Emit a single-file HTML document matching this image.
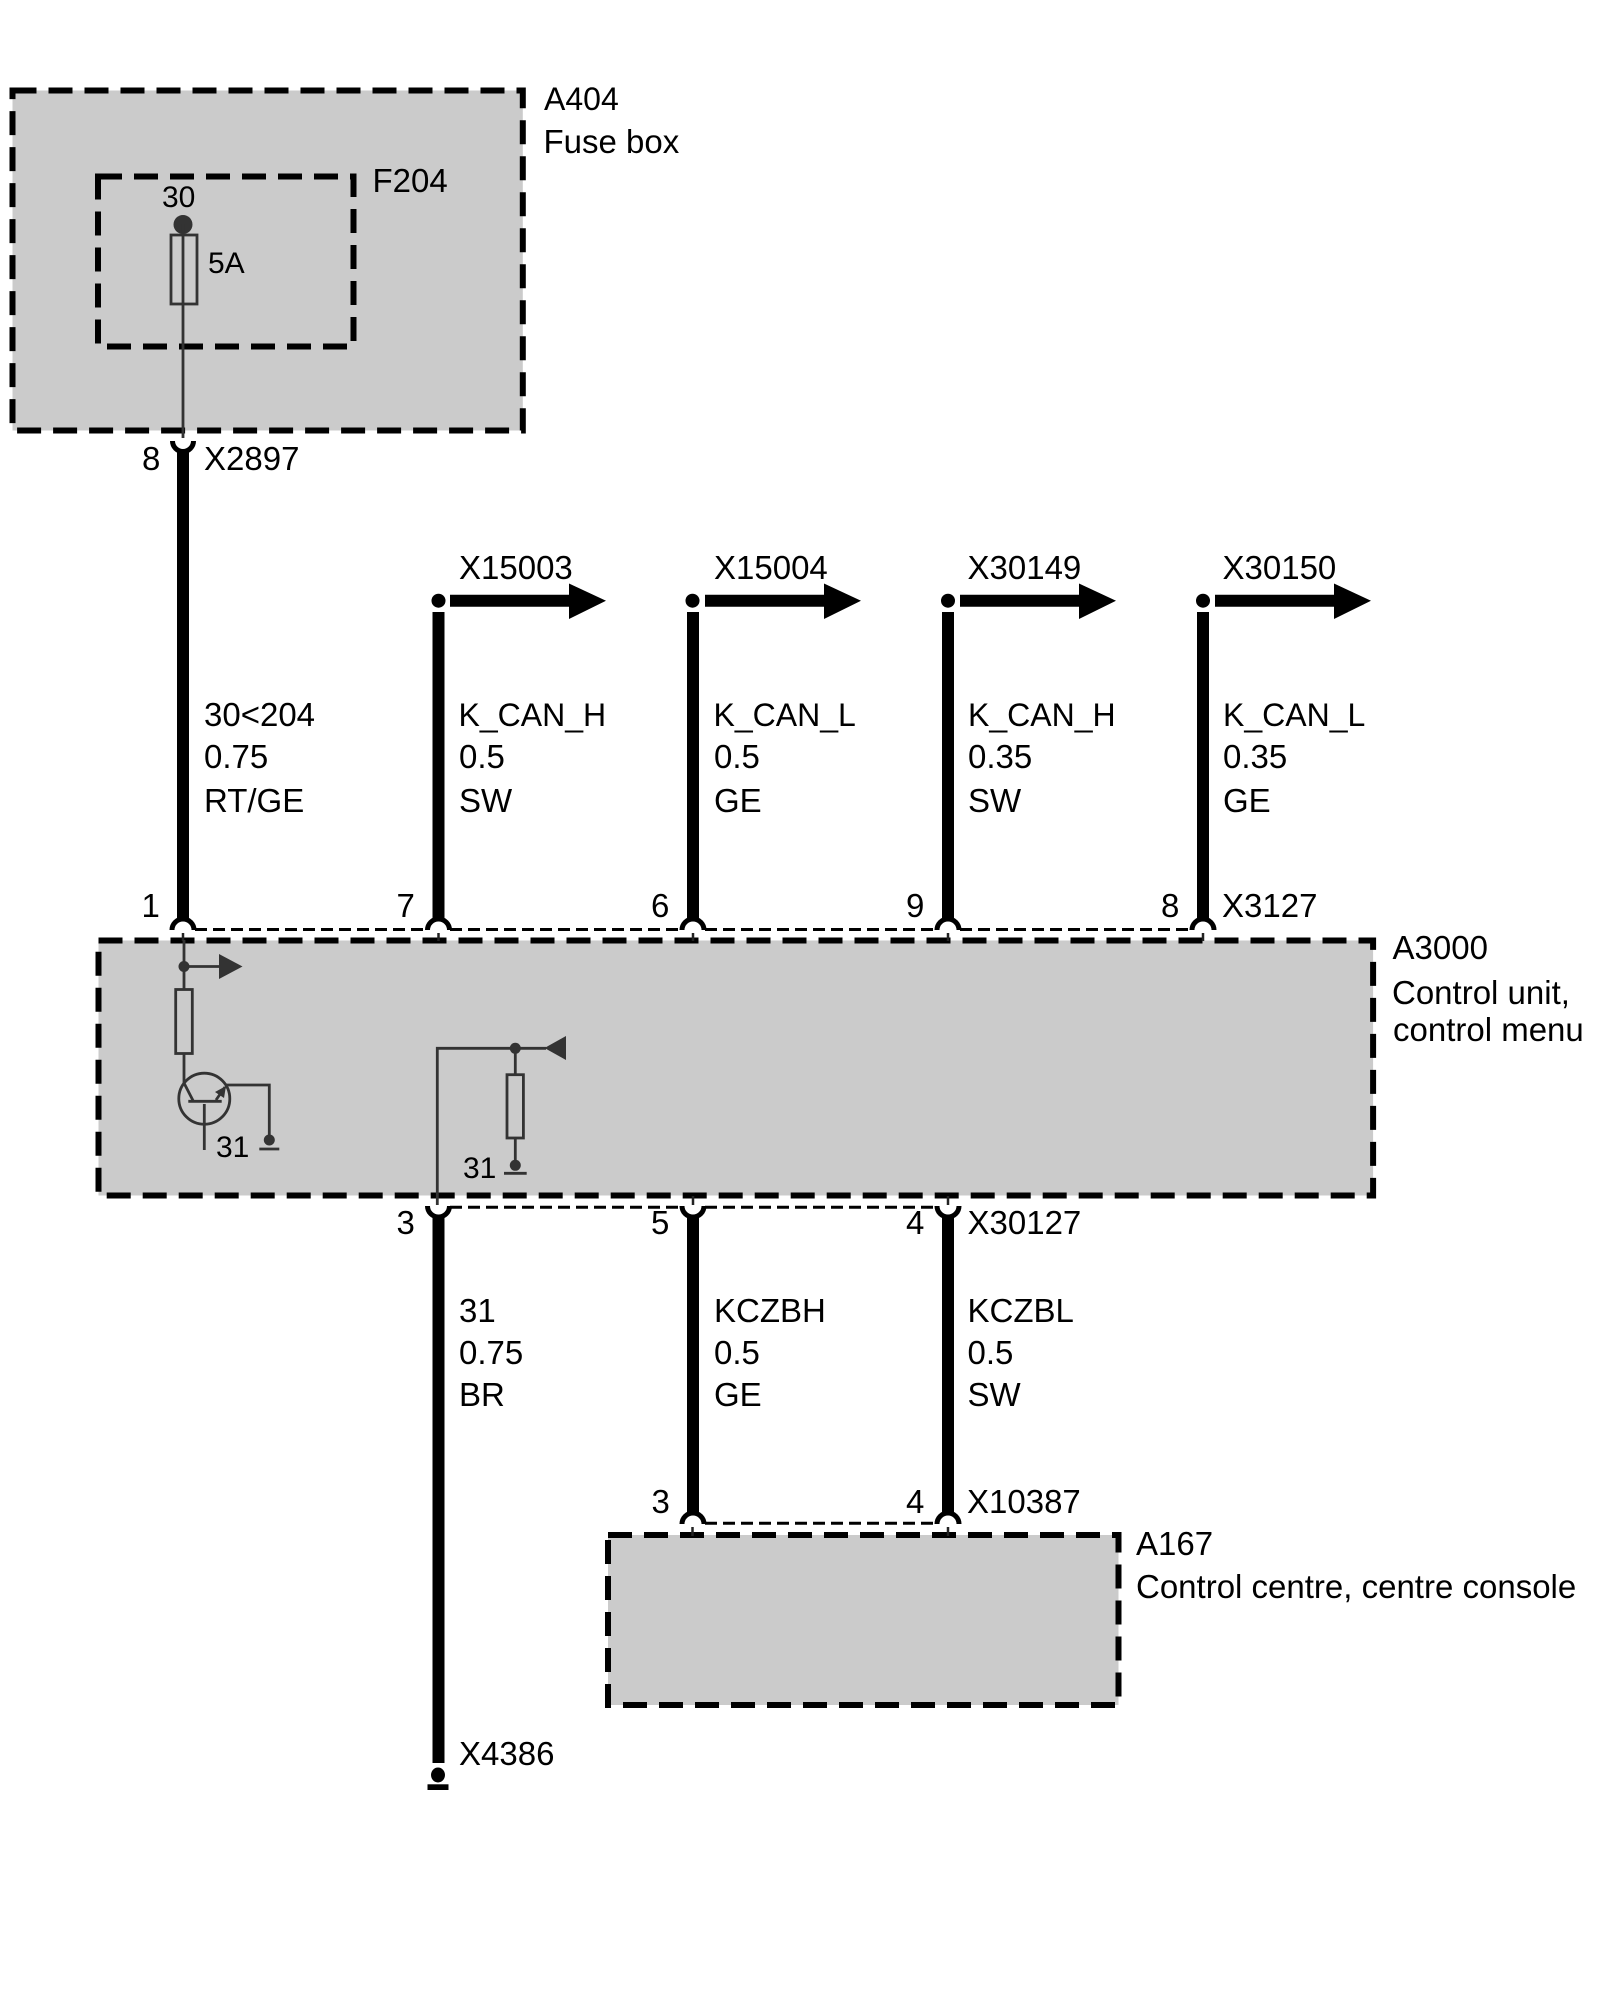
<!DOCTYPE html>
<html>
<head>
<meta charset="utf-8">
<style>
html,body{margin:0;padding:0;background:#fff;}
svg{display:block;}
text{font-family:"Liberation Sans",Arial,sans-serif;font-size:33px;fill:#000;}
.s{font-size:30px;}
.n{font-size:32px;}
.box{fill:#cbcbcb;stroke:#000;stroke-width:6;stroke-dasharray:24 12;}
.bw{stroke:#000;stroke-width:12;fill:none;}
.arc{stroke:#000;stroke-width:5;fill:none;}
.dl{stroke:#000;stroke-width:3;stroke-dasharray:12 6;fill:none;}
.tick{stroke:#222;stroke-width:2.5;fill:none;}
.tw{stroke:#333;stroke-width:2.8;fill:none;}
.d{fill:#333;}
</style>
</head>
<body>
<svg width="1600" height="2000" viewBox="0 0 1600 2000" xmlns="http://www.w3.org/2000/svg">
<rect width="1600" height="2000" fill="#fff"/>

<!-- Boxes -->
<rect class="box" x="12.5" y="90.5" width="510.3" height="340"/>
<rect class="box" x="98" y="176.5" width="255.5" height="170"/>
<rect class="box" x="98.5" y="940.5" width="1274.6" height="255"/>
<rect class="box" x="608" y="1535" width="510.5" height="170"/>

<!-- F204 internals -->
<ellipse class="d" cx="183" cy="224.5" rx="9.5" ry="9.5"/>
<rect x="171" y="235" width="26" height="69" fill="none" stroke="#333" stroke-width="2.8"/>
<line class="tw" x1="183" y1="224" x2="183" y2="438"/>

<!-- X2897 socket and wire -->
<path class="arc" d="M172.5 441 A10.5 10.5 0 0 0 193.5 441"/>
<line class="bw" x1="183" y1="450" x2="183" y2="921"/>

<!-- top connector arcs and wires -->
<line class="bw" x1="438.5" y1="612" x2="438.5" y2="921"/>
<line class="bw" x1="693" y1="612" x2="693" y2="921"/>
<line class="bw" x1="948" y1="612" x2="948" y2="921"/>
<line class="bw" x1="1203" y1="612" x2="1203" y2="921"/>

<circle cx="438.5" cy="600.7" r="7" fill="#000"/>
<circle cx="692.5" cy="600.7" r="7" fill="#000"/>
<circle cx="948" cy="600.7" r="7" fill="#000"/>
<circle cx="1203" cy="600.7" r="7" fill="#000"/>

<line class="bw" x1="450" y1="600.7" x2="572" y2="600.7"/>
<polygon points="569,583.5 606,600.7 569,619" fill="#000"/>
<line class="bw" x1="705" y1="600.7" x2="827" y2="600.7"/>
<polygon points="824,583.5 861,600.7 824,619" fill="#000"/>
<line class="bw" x1="960" y1="600.7" x2="1082" y2="600.7"/>
<polygon points="1079,583.5 1116,600.7 1079,619" fill="#000"/>
<line class="bw" x1="1215" y1="600.7" x2="1337" y2="600.7"/>
<polygon points="1334,583.5 1371,600.7 1334,619" fill="#000"/>

<path class="arc" d="M172 930 A11 11 0 0 1 194 930"/>
<path class="arc" d="M427.5 930 A11 11 0 0 1 449.5 930"/>
<path class="arc" d="M682 930 A11 11 0 0 1 704 930"/>
<path class="arc" d="M937 930 A11 11 0 0 1 959 930"/>
<path class="arc" d="M1192 930 A11 11 0 0 1 1214 930"/>

<line class="dl" x1="195" y1="929.5" x2="427" y2="929.5"/>
<line class="dl" x1="450" y1="929.5" x2="681" y2="929.5"/>
<line class="dl" x1="705" y1="929.5" x2="936" y2="929.5"/>
<line class="dl" x1="960" y1="929.5" x2="1191" y2="929.5"/>

<line class="tick" x1="183" y1="933" x2="183" y2="941"/>
<line class="tick" x1="438.5" y1="933" x2="438.5" y2="941"/>
<line class="tick" x1="693" y1="933" x2="693" y2="941"/>
<line class="tick" x1="948" y1="933" x2="948" y2="941"/>
<line class="tick" x1="1203" y1="933" x2="1203" y2="941"/>

<!-- A3000 internals left -->
<line class="tw" x1="184" y1="940" x2="184" y2="989"/>
<circle class="d" cx="184" cy="966.5" r="5.5"/>
<line class="tw" x1="184" y1="966.5" x2="222" y2="966.5"/>
<polygon class="d" points="219,954 242.5,966.5 219,979"/>
<rect x="175.7" y="989.5" width="16.6" height="64" fill="none" stroke="#333" stroke-width="2.8"/>
<line class="tw" x1="184" y1="1053" x2="184" y2="1084"/>
<circle cx="204.3" cy="1098.7" r="25.5" fill="none" stroke="#333" stroke-width="2.8"/>
<line class="tw" x1="184" y1="1083" x2="193.5" y2="1101.5"/>
<line class="tw" x1="188.3" y1="1101.3" x2="221.7" y2="1101.3"/>
<line class="tw" x1="204.3" y1="1104" x2="204.3" y2="1150"/>
<line class="tw" x1="216" y1="1100" x2="225" y2="1087"/>
<polygon class="d" points="226,1086 224,1098 215,1092"/>
<path class="tw" d="M225 1085 H269.3 V1140"/>
<circle class="d" cx="269.3" cy="1140" r="5.5"/>
<line class="tw" x1="259.3" y1="1149" x2="279.3" y2="1149"/>

<!-- A3000 internals right -->
<path class="tw" d="M437.3 1205 V1048.3 H546"/>
<circle class="d" cx="515.3" cy="1048.3" r="5.5"/>
<polygon class="d" points="544.5,1048 566,1036 566,1060"/>
<line class="tw" x1="515.3" y1="1048" x2="515.3" y2="1075"/>
<rect x="507" y="1074.7" width="16.4" height="63.3" fill="none" stroke="#333" stroke-width="2.8"/>
<line class="tw" x1="515.3" y1="1138" x2="515.3" y2="1165"/>
<circle class="d" cx="515.3" cy="1165.3" r="5.5"/>
<line class="tw" x1="504" y1="1173.3" x2="526.7" y2="1173.3"/>

<!-- Bottom connector -->
<path class="arc" d="M427.5 1206 A11 11 0 0 0 449.5 1206"/>
<path class="arc" d="M682 1206 A11 11 0 0 0 704 1206"/>
<path class="arc" d="M937 1206 A11 11 0 0 0 959 1206"/>
<line class="dl" x1="450" y1="1207.3" x2="681" y2="1207.3"/>
<line class="dl" x1="705" y1="1207.3" x2="936" y2="1207.3"/>
<line class="tick" x1="693" y1="1196" x2="693" y2="1205"/>
<line class="tick" x1="948" y1="1196" x2="948" y2="1205"/>

<line class="bw" x1="438.5" y1="1215" x2="438.5" y2="1763"/>
<line class="bw" x1="693" y1="1215" x2="693" y2="1513"/>
<line class="bw" x1="948" y1="1215" x2="948" y2="1513"/>

<!-- X10387 sockets -->
<path class="arc" d="M682 1524 A11 11 0 0 1 704 1524"/>
<path class="arc" d="M937 1524 A11 11 0 0 1 959 1524"/>
<line class="dl" x1="705" y1="1523.3" x2="936" y2="1523.3"/>
<line class="tick" x1="692.5" y1="1527" x2="692.5" y2="1536"/>
<line class="tick" x1="948" y1="1527" x2="948" y2="1536"/>

<!-- X4386 ground -->
<ellipse cx="438" cy="1775" rx="7" ry="7.5" fill="#000"/>
<rect x="427.5" y="1784.3" width="21" height="5.7" fill="#000"/>

<!-- Labels -->
<text class="n" x="544" y="110">A404</text>
<text x="543.5" y="153">Fuse box</text>
<text x="372.5" y="192">F204</text>
<text class="s" x="162" y="207">30</text>
<text class="s" x="208" y="273">5A</text>
<text x="142" y="470">8</text>
<text x="204" y="470">X2897</text>

<text x="459" y="579">X15003</text>
<text x="714" y="579">X15004</text>
<text x="967.5" y="579">X30149</text>
<text x="1222.5" y="579">X30150</text>

<text x="204" y="726">30&lt;204</text>
<text x="204" y="768">0.75</text>
<text x="204" y="812">RT/GE</text>

<text class="n" x="458.5" y="726">K_CAN_H</text>
<text x="459" y="768">0.5</text>
<text x="459" y="812">SW</text>

<text class="n" x="713.5" y="726">K_CAN_L</text>
<text x="714" y="768">0.5</text>
<text x="714" y="812">GE</text>

<text class="n" x="968" y="726">K_CAN_H</text>
<text x="968" y="768">0.35</text>
<text x="968" y="812">SW</text>

<text class="n" x="1223" y="726">K_CAN_L</text>
<text x="1223" y="768">0.35</text>
<text x="1223" y="812">GE</text>

<text x="141.5" y="917">1</text>
<text x="396.5" y="917">7</text>
<text x="651" y="917">6</text>
<text x="906" y="917">9</text>
<text x="1161" y="917">8</text>
<text x="1222" y="917">X3127</text>

<text x="1392.5" y="959">A3000</text>
<text x="1392" y="1004">Control unit,</text>
<text x="1393" y="1041">control menu</text>

<text class="s" x="216" y="1157">31</text>
<text class="s" x="463" y="1178">31</text>

<text x="396.5" y="1234">3</text>
<text x="651" y="1234">5</text>
<text x="906" y="1234">4</text>
<text x="967.5" y="1234">X30127</text>

<text x="459" y="1322">31</text>
<text x="459" y="1364">0.75</text>
<text x="459" y="1406">BR</text>

<text x="714" y="1322">KCZBH</text>
<text x="714" y="1364">0.5</text>
<text x="714" y="1406">GE</text>

<text x="967.5" y="1322">KCZBL</text>
<text x="967.5" y="1364">0.5</text>
<text x="967.5" y="1406">SW</text>

<text x="651.5" y="1513">3</text>
<text x="906" y="1513">4</text>
<text x="967" y="1513">X10387</text>

<text x="1136" y="1555">A167</text>
<text x="1136" y="1598">Control centre, centre console</text>

<text x="459" y="1765">X4386</text>
</svg>
</body>
</html>
